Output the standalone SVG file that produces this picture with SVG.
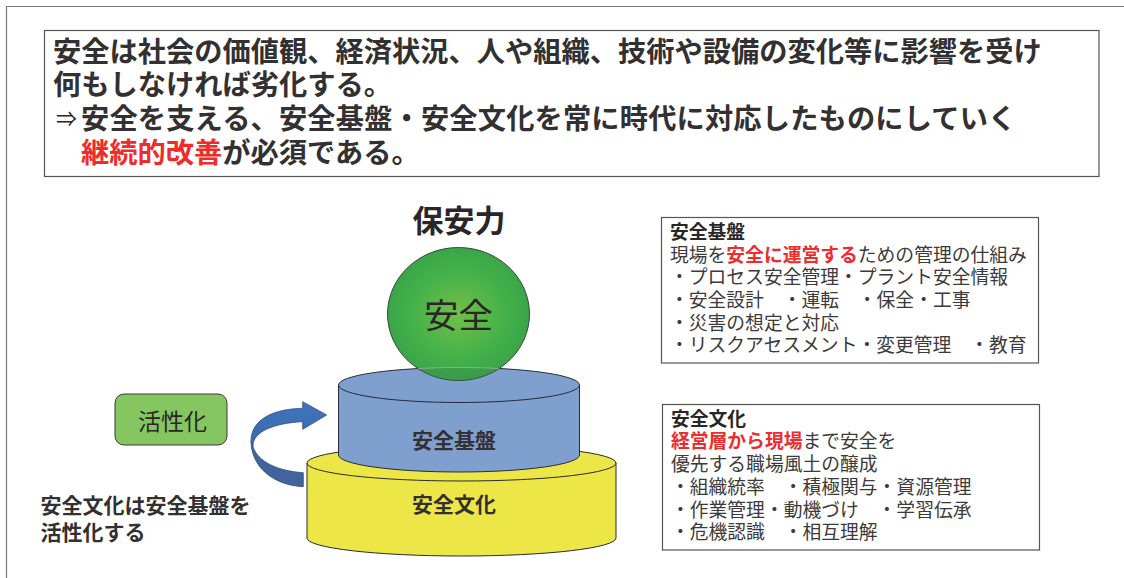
<svg xmlns="http://www.w3.org/2000/svg" width="1124" height="578" viewBox="0 0 1124 578">
  <style>
    text { font-family: "Noto Sans CJK JP", "Noto Sans", sans-serif; fill: #2a2627; }
    .head { font-size: 28.25px; font-weight: 700; fill: #333031; }
    .wide { letter-spacing: 0.15px; }
    .arrow-sign { font-size: 21px; font-weight: 400; }
    .body { font-size: 18.8px; fill: #3c3a3a; }
    .title { font-size: 18.8px; font-weight: 700; fill: #2a2627; }
    .label { font-size: 21px; font-weight: 700; fill: #333031; }
    .red { fill: #ee2c2c; }
    .redb { fill: #ee2c2c; font-weight: 700; }
    .box { fill: #fff; stroke: #555; stroke-width: 1.2; }
    .edge { stroke: #2a2a35; stroke-width: 1; }
    .mid { text-anchor: middle; }
  </style>
  <defs>
    <radialGradient id="ball" cx="50%" cy="50%" r="50%">
      <stop offset="0" stop-color="#72c047"/>
      <stop offset="0.7" stop-color="#41b04a"/>
      <stop offset="1" stop-color="#3ba548"/>
    </radialGradient>
    <linearGradient id="curlTop" x1="0" y1="0" x2="0" y2="1">
      <stop offset="0" stop-color="#3f74bd"/>
      <stop offset="1" stop-color="#3a69ad"/>
    </linearGradient>
    <linearGradient id="curlBack" x1="0" y1="0" x2="0" y2="1">
      <stop offset="0" stop-color="#3b669f"/>
      <stop offset="1" stop-color="#42639a"/>
    </linearGradient>
    <clipPath id="ballClip"><ellipse cx="458.5" cy="314" rx="71" ry="66.5"/></clipPath>
  </defs>

  <rect width="1124" height="578" fill="#fff"/>

  <g id="frame">
    <path d="M1124 6.5H6.5V578" fill="none" stroke="#777" stroke-width="1.2"/>
  </g>

  <g id="summary">
    <rect class="box" x="44.5" y="30.5" width="1054.5" height="146"/>
    <text class="head" x="53" y="62">安全は社会の価値観、経済状況、人や組織、技術や設備の変化等に影響を受け</text>
    <text class="head" x="53" y="95">何もしなければ劣化する。</text>
    <text class="arrow-sign" x="56" y="126">⇒</text>
    <text class="head wide" x="81" y="129">安全を支える、安全基盤・安全文化を常に時代に対応したものにしていく</text>
    <text class="head" x="81" y="163"><tspan class="red">継続的改善</tspan>が必須である。</text>
  </g>

  <g id="hozen-ryoku">
    <text class="mid" x="459" y="232" font-size="31" font-weight="700">保安力</text>
  </g>

  <g id="culture">
    <path class="edge" d="M307 463V538A154.5 18 0 0 0 616 538V463Z" fill="#ece747"/>
    <ellipse class="edge" cx="461.5" cy="463" rx="154.5" ry="18" fill="#ece747"/>
    <text class="label mid" x="454" y="512">安全文化</text>
  </g>

  <g id="foundation">
    <path class="edge" d="M338.5 385V455A120.5 17 0 0 0 579.5 455V385Z" fill="#7f9fcf"/>
    <ellipse class="edge" cx="459" cy="385" rx="120.5" ry="17.5" fill="#7f9fcf"/>
    <text class="label mid" x="454" y="448">安全基盤</text>
  </g>

  <g id="safety">
    <ellipse cx="458.5" cy="314" rx="71" ry="66.5" fill="url(#ball)" stroke="#2f3a30" stroke-width="0.9"/>
    <ellipse cx="459" cy="385" rx="120.5" ry="17.5" fill="#3a8f4a" fill-opacity="0.4" stroke="#9db59a" stroke-width="0.8" clip-path="url(#ballClip)"/>
    <text class="mid" x="458.5" y="328" font-size="34.5">安全</text>
  </g>

  <g id="activation">
    <rect x="115" y="394" width="112" height="51" rx="9" fill="#85c660" stroke="#3a3a3a" stroke-width="1"/>
    <text class="mid" x="172.5" y="430" font-size="23">活性化</text>
  </g>

  <g id="activation-note">
    <text class="label" x="40.5" y="513">安全文化は安全基盤を</text>
    <text class="label" x="40.5" y="540">活性化する</text>
  </g>

  <g id="foundation-detail">
    <rect class="box" x="661.5" y="217.5" width="377" height="145.5"/>
    <text class="title" x="670" y="239">安全基盤</text>
    <text class="body" x="670" y="262">現場を<tspan class="redb">安全に運営する</tspan>ための管理の仕組み</text>
    <text class="body" x="670" y="284">・プロセス安全管理・プラント安全情報</text>
    <text class="body" x="670" y="307">・安全設計　・運転　・保全・工事</text>
    <text class="body" x="670" y="330">・災害の想定と対応</text>
    <text class="body" x="670" y="352">・リスクアセスメント・変更管理　・教育</text>
  </g>

  <g id="culture-detail">
    <rect class="box" x="662.5" y="404.5" width="377" height="145.5"/>
    <text class="title" x="671" y="426">安全文化</text>
    <text class="body" x="671" y="448"><tspan class="redb">経営層から現場</tspan>まで安全を</text>
    <text class="body" x="671" y="471">優先する職場風土の醸成</text>
    <text class="body" x="671" y="494">・組織統率　・積極関与・資源管理</text>
    <text class="body" x="671" y="517">・作業管理・動機づけ　・学習伝承</text>
    <text class="body" x="671" y="539">・危機認識　・相互理解</text>
  </g>

  <g id="connectors">
    <!-- curled arrow rising from the culture tier to the foundation tier -->
    <path d="M253 446.7C258 462 278 471 303.3 472.7V486.7C272 485 251 466 251 441Z" fill="url(#curlBack)" stroke="#35527f" stroke-width="0.8"/>
    <path d="M253 446.7C252 432 274 423 302.7 421.7V429.3L326.7 415L302.7 401.7V408.3C272 409 251 420 251 441Z" fill="url(#curlTop)" stroke="#35527f" stroke-width="0.8"/>
  </g>
</svg>
